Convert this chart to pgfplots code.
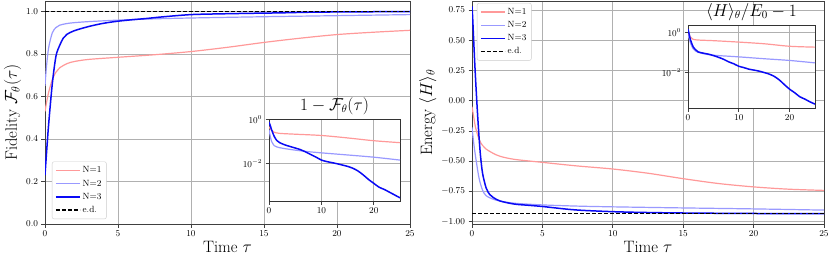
\documentclass[border=0pt]{standalone}
\usepackage{pgfplots}
\pgfplotsset{compat=1.18}
\definecolor{cNa}{RGB}{255,153,153}
\definecolor{cNb}{RGB}{153,153,255}
\definecolor{cNc}{RGB}{10,10,245}
\definecolor{gridc}{RGB}{176,176,176}
\pgfplotsset{
  common/.style={scale only axis, anchor=south west,
    grid=major, major grid style={gridc, line width=0.8pt},
    axis line style={black!75, line width=0.8pt},
    tick align=outside, major tick length=3.5pt,
    tick style={black!75, line width=0.8pt},
    xtick pos=lower, ytick pos=left,
    axis background/.style={fill=white}},
  mainax/.style={common, width=365pt, height=223pt, xmin=0, xmax=25, xtick={0,5,...,25},
    ticklabel style={font=\fontsize{9.5}{11}\selectfont},
    label style={font=\fontsize{16.5}{18}\selectfont},
    xlabel={Time $\tau$},
    xlabel style={yshift=2pt},
    legend cell align=left,
    legend style={font=\fontsize{9}{10}\selectfont, draw=black!20, rounded corners=2pt,
      fill=white, inner sep=3pt, row sep=1.5pt},
    legend image code/.code={\draw[sharp corners, ##1] (0pt,0pt) -- (24pt,0pt);}},
  insetax/.style={common, height=82pt, xmin=0, xmax=25, xtick={0,10,20},
    ticklabel style={font=\fontsize{9}{10}\selectfont},
    title style={font=\fontsize{16}{18}\selectfont, yshift=-5pt},
    axis line style={black!80, line width=1pt}},
  n1/.style={draw=cNa, line width=1.2pt},
  n2/.style={draw=cNb, line width=1.2pt},
  n3/.style={draw=cNc, line width=1.5pt},
  ed/.style={draw=black, line width=1.2pt, dash pattern=on 4pt off 2pt},
}
\begin{document}
\begin{tikzpicture}
\useasboundingbox (0,0) rectangle (830pt,258pt);
% ---------------- left panel
\begin{axis}[mainax, at={(45pt,34pt)}, ymin=0, ymax=1.05,
  ytick={0,0.2,...,1.0},
  yticklabel style={/pgf/number format/.cd, fixed, fixed zerofill, precision=1},
  ylabel={Fidelity $\mathcal{F}_\theta(\tau)$},
  ylabel style={yshift=-2pt},
  legend style={at={(0.019,0.022)}, anchor=south west}]
\addplot[n1, smooth] coordinates {(0,0.53)(0.1,0.57)(0.25,0.62)(0.5,0.68)(0.75,0.715)(1,0.735)(1.5,0.755)(2,0.765)(3,0.775)(5,0.785)(7.5,0.797)(10,0.812)(12.5,0.832)(15,0.855)(17.5,0.875)(20,0.892)(22.5,0.903)(25,0.912)};
\addlegendentry{N=1}
\addplot[n2, smooth] coordinates {(0,0.65)(0.1,0.74)(0.25,0.83)(0.5,0.9)(0.75,0.925)(1,0.936)(1.5,0.944)(2,0.948)(3,0.953)(5,0.96)(7.5,0.966)(10,0.97)(15,0.976)(20,0.981)(25,0.986)};
\addlegendentry{N=2}
\addplot[n3, smooth] coordinates {(0,0.23)(0.1,0.33)(0.25,0.47)(0.5,0.66)(0.75,0.79)(1,0.84)(1.25,0.875)(1.5,0.893)(2,0.91)(3,0.93)(4,0.945)(5,0.955)(6,0.962)(7,0.968)(8,0.975)(10,0.986)(12,0.9895)(14,0.992)(16,0.994)(18,0.997)(20,0.9985)(22,0.9993)(25,0.99975)};
\addlegendentry{N=3}
\addplot[ed] coordinates {(0,1)(25,1)};
\addlegendentry{e.d.}
\end{axis}
\begin{semilogyaxis}[insetax, at={(269pt,57pt)}, width=131pt, ymin=1.86e-4, ymax=1.07,
  ytick={1,0.01}, minor ytick={},
  title={$1-\mathcal{F}_\theta(\tau)$}]
\addplot[n1, smooth] coordinates {(0,0.47)(0.25,0.38)(0.5,0.32)(1,0.265)(2,0.235)(5,0.215)(10,0.188)(15,0.145)(20,0.108)(25,0.088)};
\addplot[n2, smooth] coordinates {(0,0.35)(0.25,0.17)(0.5,0.1)(1,0.064)(1.5,0.056)(2,0.052)(3,0.047)(5,0.04)(7.5,0.034)(10,0.03)(15,0.024)(20,0.019)(25,0.014)};
\addplot[n3, smooth] coordinates {(0,0.77)(0.25,0.53)(0.5,0.34)(1,0.17)(1.5,0.11)(2,0.089)(3,0.07)(4,0.059)(5,0.05)(6,0.042)(7,0.033)(8,0.025)(9,0.019)(10,0.014)(11,0.012)(12,0.0107)(13,0.0095)(14,0.0083)(15,0.0072)(16,0.0059)(17,0.0044)(18,0.0029)(19,0.0018)(20,0.0012)(21,0.0008)(22,0.00063)(23,0.00047)(24,0.00035)(25,0.00026)};
\end{semilogyaxis}
% ---------------- right panel
\begin{axis}[mainax, at={(472pt,34pt)}, width=352pt, ymin=-1.02, ymax=0.825,
  ytick={-1,-0.75,...,0.75},
  yticklabel style={/pgf/number format/.cd, fixed, fixed zerofill, precision=2},
  ylabel={Energy $\langle H\rangle_\theta$},
  ylabel style={yshift=-2pt},
  legend style={at={(0.014,0.991)}, anchor=north west}]
\addplot[n1, smooth] coordinates {(0,-0.05)(0.1,-0.12)(0.25,-0.22)(0.5,-0.32)(0.75,-0.37)(1,-0.40)(1.5,-0.435)(2,-0.46)(3,-0.485)(5,-0.51)(7.5,-0.54)(10,-0.565)(12.5,-0.6)(15,-0.645)(17.5,-0.685)(20,-0.713)(22.5,-0.732)(25,-0.742)};
\addlegendentry{N=1}
\addplot[n2, smooth] coordinates {(0,-0.22)(0.1,-0.33)(0.25,-0.46)(0.5,-0.64)(0.75,-0.74)(1,-0.785)(1.5,-0.815)(2,-0.83)(3,-0.848)(5,-0.862)(7.5,-0.872)(10,-0.878)(15,-0.887)(20,-0.895)(25,-0.905)};
\addlegendentry{N=2}
\addplot[n3, smooth] coordinates {(0,0.78)(0.05,0.68)(0.1,0.55)(0.2,0.3)(0.3,0.08)(0.4,-0.12)(0.5,-0.3)(0.6,-0.45)(0.75,-0.6)(1,-0.72)(1.25,-0.775)(1.5,-0.8)(2,-0.83)(3,-0.855)(4,-0.865)(5,-0.875)(6,-0.888)(7,-0.9)(8,-0.908)(10,-0.918)(12,-0.924)(15,-0.929)(20,-0.933)(25,-0.934)};
\addlegendentry{N=3}
\addplot[ed] coordinates {(0,-0.935)(25,-0.935)};
\addlegendentry{e.d.}
\end{axis}
\begin{semilogyaxis}[insetax, at={(688pt,150pt)}, width=127pt, height=83pt, ymin=1.72e-4, ymax=2.43,
  ytick={1,0.01}, minor ytick={},
  title={$\langle H\rangle_\theta/E_0-1$}]
\addplot[n1, smooth] coordinates {(0,0.95)(0.25,0.75)(0.5,0.6)(1,0.47)(2,0.43)(5,0.4)(10,0.34)(15,0.28)(20,0.21)(25,0.19)};
\addplot[n2, smooth] coordinates {(0,0.77)(0.25,0.5)(0.5,0.3)(1,0.16)(1.5,0.12)(2,0.105)(3,0.09)(5,0.075)(10,0.062)(15,0.05)(20,0.041)(25,0.031)};
\addplot[n3, smooth] coordinates {(0,1.5)(0.25,0.8)(0.5,0.43)(1,0.2)(1.5,0.14)(2,0.11)(3,0.095)(4,0.085)(5,0.072)(6,0.059)(7,0.047)(8,0.035)(9,0.028)(10,0.021)(11,0.018)(12,0.015)(13,0.0135)(14,0.012)(15,0.0102)(16,0.0085)(17,0.0065)(18,0.0043)(19,0.0025)(20,0.0015)(21,0.001)(22,0.00063)(23,0.00048)(24,0.00035)(25,0.00027)};
\end{semilogyaxis}
\end{tikzpicture}
\end{document}
